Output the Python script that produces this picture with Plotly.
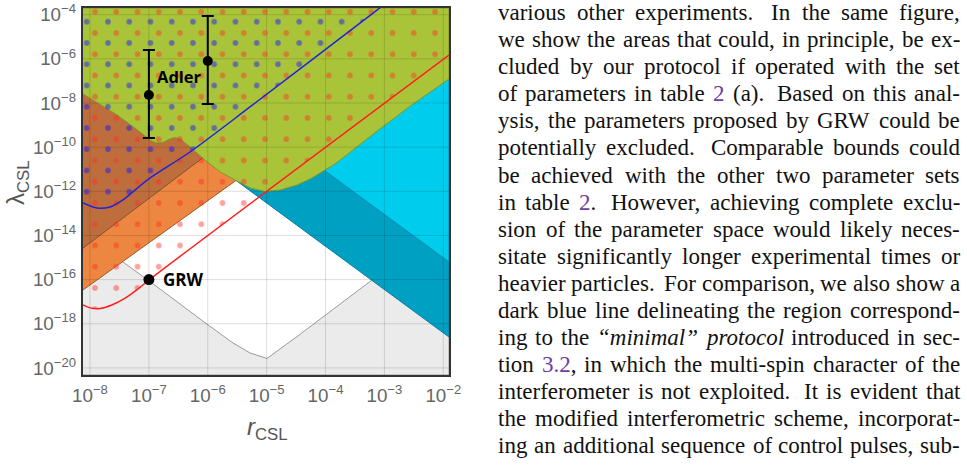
import re
import numpy as np
import plotly.graph_objects as go

W, H = 967, 465

# ---------------- data (log10 values) ----------------
X_LOG_RANGE = [-8.119, -1.903]     # r_CSL axis, log10
Y_LOG_RANGE = [-20.32, -3.697]     # lambda_CSL axis, log10
x_tick_exponents = [-8, -7, -6, -5, -4, -3, -2]
y_tick_exponents = [-20, -18, -16, -14, -12, -10, -8, -6, -4]

# lower edge of the green (excluded) region
green_edge_log_r = [-8.119, -7.83, -7.54, -7.15, -6.98, -6.88, -6.76, -6.66, -6.57, -6.47,
                    -6.30, -6.01, -5.79, -5.52, -5.28, -5.03, -4.77, -4.48, -4.26, -4.06,
                    -3.84, -3.64, -3.08, -2.515, -1.903]
green_edge_log_lam = [-7.59, -8.05, -8.54, -9.31, -9.68, -9.81, -9.79, -9.65, -9.56, -9.63,
                      -9.99, -10.67, -11.12, -11.51, -11.85, -12.01, -11.94, -11.71, -11.44, -11.12,
                      -10.76, -10.35, -9.18, -8.05, -6.91]
# brown / orange band edges
line_a_log_r = [-8.119, -5.88]
line_a_log_lam = [-14.57, -10.07]
line_b_log_r = [-8.119, -5.52]
line_b_log_lam = [-16.47, -11.51]
# grey (theoretically excluded) region edge
gray_edge_log_r = [-8.119, -7.406, -7.0, -5.996, -5.571, -5.283, -4.994, -4.485, -3.211, -1.903]
gray_edge_log_lam = [-13.89, -15.26, -16.05, -18.05, -18.87, -19.32, -19.57, -18.58, -16.02, -13.39]
# dark teal and cyan regions
teal_edge_log_r = [-5.52, -1.903]
teal_edge_log_lam = [-11.51, -18.6]
cyan_edge_log_r = [-4.2, -1.903]
cyan_edge_log_lam = [-10.70, -15.2]
# protocol bounds
red_curve_log_r = [-8.119, -8.0, -7.83, -7.63, -7.41, -7.15, -7.0, -1.903]
red_curve_log_lam = [-17.15, -17.28, -17.31, -17.15, -16.85, -16.35, -16.02, -5.83]
blue_curve_log_r = [-8.119, -7.881, -7.66, -7.44, -7.03, -6.302, -5.283, -3.126, -2.98]
blue_curve_log_lam = [-12.53, -12.76, -12.71, -12.39, -11.49, -10.22, -8.18, -3.79, -3.50]
# points
grw_r = [1e-7]
grw_lam = [1e-16]
adler_r = [1e-7, 1e-6]
adler_log_lam = [-7.64, -6.10]
adler_log_hi = [-5.60, -4.06]
adler_log_lo = [-9.58, -8.04]
ADLER_LABEL_LOG_LAM = -6.78

PARA_LINES = [
    "various other experiments.  In the same figure,",
    "we show the areas that could, in principle, be ex-",
    "cluded by our protocol if operated with the set",
    "of parameters in table §2§ (a). Based on this anal-",
    "ysis, the parameters proposed by GRW could be",
    "potentially excluded. Comparable bounds could",
    "be achieved with the other two parameter sets",
    "in table §2§. However, achieving complete exclu-",
    "sion of the parameter space would likely neces-",
    "sitate significantly longer experimental times or",
    "heavier particles. For comparison, we also show a",
    "dark blue line delineating the region correspond-",
    "ing to the *“minimal”* *protocol* introduced in sec-",
    "tion §3.2§, in which the multi-spin character of the",
    "interferometer is not exploited. It is evident that",
    "the modified interferometric scheme, incorporat-",
    "ing an additional sequence of control pulses, sub-",
]

# ---------------- styling / layout constants ----------------
PL, PR, PT, PB = 83, 449, 8, 375
X0, X1 = X_LOG_RANGE
Y0, Y1 = Y_LOG_RANGE
C_GREEN, C_BROWN, C_ORANGE = "#AAC43A", "#BE6E3C", "#EC8640"
C_GRAY, C_TEAL, C_CYAN = "#EBEBEB", "#00A0C2", "#00CDEE"


def tp(a):
    return (10.0 ** np.asarray(a, dtype=float)).tolist()


def axis_pair(left, top):
    pxdx = (PR - PL) / (X1 - X0)
    pxdy = (PB - PT) / (Y1 - Y0)
    xr = [X0 - (PL - left) / pxdx, X1]
    yr = [Y0, Y1 + (PT - top) / pxdy]
    return [left / W, PR / W], xr, [1 - PB / H, 1 - top / H], yr


fig = go.Figure()


def region(xl, yl, fill, edge, xa="x", ya="y"):
    fig.add_trace(go.Scatter(x=tp(xl), y=tp(yl), mode="lines", fill="toself",
                             fillcolor=fill, line=dict(color=edge, width=1),
                             xaxis=xa, yaxis=ya, hoverinfo="skip", showlegend=False))


# grey region
region(gray_edge_log_r + [X1, X0], gray_edge_log_lam + [Y0, Y0], C_GRAY, "#9B9B9B")
# light orange band
region([line_b_log_r[0], line_b_log_r[1], line_a_log_r[1], line_a_log_r[0]],
       [line_b_log_lam[0], line_b_log_lam[1], line_a_log_lam[1], line_a_log_lam[0]],
       C_ORANGE, "#9C5A2C")
# dark brown
region(line_a_log_r + [X0], line_a_log_lam + [Y1], C_BROWN, "#8E5530")
# dark teal
region(teal_edge_log_r + [X1], teal_edge_log_lam + [Y1], C_TEAL, "#0A7FA0")
# cyan
region(cyan_edge_log_r + [X1], cyan_edge_log_lam + [Y1], C_CYAN, "#0A8FB0")
# green
region(green_edge_log_r + [X1, X0], green_edge_log_lam + [Y1, Y1], C_GREEN, "#7E9A22")

# grid lines on top of the fills
gx, gy = [], []
for e in x_tick_exponents:
    gx += [10.0 ** e, 10.0 ** e, None]
    gy += [10.0 ** Y0, 10.0 ** Y1, None]
for e in y_tick_exponents:
    gx += [10.0 ** X0, 10.0 ** X1, None]
    gy += [10.0 ** e, 10.0 ** e, None]
fig.add_trace(go.Scatter(x=gx, y=gy, mode="lines", line=dict(color="rgba(0,0,0,0.13)", width=1),
                         hoverinfo="skip", showlegend=False))

# dotted hatching (red above red curve, blue above blue curve)
fig.add_trace(go.Scatter(x=tp(red_curve_log_r + [X1, X0]), y=tp(red_curve_log_lam + [Y1, Y1]),
                         mode="lines", fill="toself", fillcolor="rgba(0,0,0,0)",
                         line=dict(width=0, color="rgba(0,0,0,0)"),
                         fillpattern=dict(shape=".", size=21.25, solidity=0.055,
                                          fgcolor="rgb(255,45,35)", fgopacity=0.45,
                                          bgcolor="rgba(0,0,0,0)"),
                         xaxis="x2", yaxis="y2", hoverinfo="skip", showlegend=False))
fig.add_trace(go.Scatter(x=tp(blue_curve_log_r + [X0]), y=tp(blue_curve_log_lam + [blue_curve_log_lam[-1]]),
                         mode="lines", fill="toself", fillcolor="rgba(0,0,0,0)",
                         line=dict(width=0, color="rgba(0,0,0,0)"),
                         fillpattern=dict(shape=".", size=21.25, solidity=0.055,
                                          fgcolor="rgb(20,20,255)", fgopacity=0.48,
                                          bgcolor="rgba(0,0,0,0)"),
                         xaxis="x3", yaxis="y3", hoverinfo="skip", showlegend=False))

# curves and points on top
fig.add_trace(go.Scatter(x=tp(red_curve_log_r), y=tp(red_curve_log_lam), mode="lines",
                         line=dict(color="#FF1E1E", width=1.5, shape="spline", smoothing=0.8),
                         xaxis="x4", yaxis="y4", showlegend=False))
fig.add_trace(go.Scatter(x=tp(blue_curve_log_r), y=tp(blue_curve_log_lam), mode="lines",
                         line=dict(color="#2222D8", width=1.5, shape="spline", smoothing=0.8),
                         xaxis="x4", yaxis="y4", showlegend=False))
lam = np.array(tp(adler_log_lam))
fig.add_trace(go.Scatter(x=adler_r, y=lam.tolist(), mode="markers",
                         marker=dict(color="black", size=10),
                         error_y=dict(type="data", symmetric=False,
                                      array=(np.array(tp(adler_log_hi)) - lam).tolist(),
                                      arrayminus=(lam - np.array(tp(adler_log_lo))).tolist(),
                                      color="black", thickness=2, width=6),
                         xaxis="x4", yaxis="y4", showlegend=False))
fig.add_trace(go.Scatter(x=grw_r, y=grw_lam, mode="markers", marker=dict(color="black", size=11),
                         xaxis="x4", yaxis="y4", showlegend=False))

# ---------------- axes ----------------
tickfont = dict(family="Liberation Sans, Arial", size=15, color="#666666")
d1 = axis_pair(PL, PT)
d2 = axis_pair(84.4, 1.1)
d3 = axis_pair(76.1, 11.1)
hidden = dict(type="log", visible=False, showgrid=False, zeroline=False, automargin=False)
layout_axes = dict(
    xaxis=dict(type="log", domain=d1[0], range=d1[1], anchor="y", showgrid=False, zeroline=False,
               showline=False, tickmode="linear", tick0=0, dtick=1, exponentformat="power",
               showexponent="all", ticks="outside", ticklen=4, tickcolor="rgba(0,0,0,0)",
               tickfont=tickfont, automargin=False),
    yaxis=dict(type="log", domain=d1[2], range=d1[3], anchor="x", showgrid=False, zeroline=False,
               showline=False, tickmode="linear", tick0=0, dtick=2, exponentformat="power",
               showexponent="all", ticks="outside", ticklen=3, tickcolor="rgba(0,0,0,0)",
               tickfont=tickfont, automargin=False),
    xaxis2=dict(hidden, domain=d2[0], range=d2[1], anchor="y2"),
    yaxis2=dict(hidden, domain=d2[2], range=d2[3], anchor="x2"),
    xaxis3=dict(hidden, domain=d3[0], range=d3[1], anchor="y3"),
    yaxis3=dict(hidden, domain=d3[2], range=d3[3], anchor="x3"),
    xaxis4=dict(type="log", domain=d1[0], range=d1[1], anchor="y4", showgrid=False, zeroline=False,
                showticklabels=False, ticks="", showline=True, mirror=True, linecolor="#333333",
                linewidth=2, automargin=False),
    yaxis4=dict(type="log", domain=d1[2], range=d1[3], anchor="x4", showgrid=False, zeroline=False,
                showticklabels=False, ticks="", showline=True, mirror=True, linecolor="#333333",
                linewidth=2, automargin=False),
)

annotations = [
    dict(x=float(np.log10(grw_r[0])), y=float(np.log10(grw_lam[0])), xref="x4", yref="y4",
         text="<b>GRW</b>", showarrow=False, xanchor="left", yanchor="middle", xshift=12,
         font=dict(family="Open Sans", size=17, color="black")),
    dict(x=float(np.log10(adler_r[1])), y=ADLER_LABEL_LOG_LAM, xref="x4", yref="y4",
         text="<b>Adler</b>", showarrow=False, xanchor="right", yanchor="middle", xshift=-4,
         font=dict(family="Open Sans", size=16.5, color="black")),
    dict(x=17 / W, y=1 - 183 / H, xref="paper", yref="paper", text="λ<sub>CSL</sub>",
         textangle=-90, showarrow=False, xanchor="center", yanchor="middle",
         font=dict(family="Liberation Sans", size=24, color="#555555")),
    dict(x=267 / W, y=1 - 428 / H, xref="paper", yref="paper", text="<i>r</i><sub>CSL</sub>",
         showarrow=False, xanchor="center", yanchor="middle",
         font=dict(family="Liberation Sans", size=24, color="#555555")),
]

# ---------------- justified paragraph ----------------
FS = 23
TEXT_LEFT, TEXT_RIGHT = 498, 960
BASE0, STEP = 20.7, 27.02
LINK = "#6b3fa0"
TW = {' ': 250, '(': 333, ')': 333, ',': 250, '-': 333, '.': 250, ':': 278, ';': 278,
      'A': 722, 'B': 667, 'C': 667, 'D': 722, 'E': 611, 'F': 556, 'G': 722, 'H': 722, 'I': 333,
      'J': 389, 'K': 722, 'L': 611, 'M': 889, 'N': 722, 'O': 722, 'P': 556, 'Q': 722, 'R': 667,
      'S': 556, 'T': 611, 'U': 722, 'V': 722, 'W': 944, 'X': 722, 'Y': 722, 'Z': 611,
      'a': 444, 'b': 500, 'c': 444, 'd': 500, 'e': 444, 'f': 333, 'g': 500, 'h': 500, 'i': 278,
      'j': 278, 'k': 500, 'l': 278, 'm': 778, 'n': 500, 'o': 500, 'p': 500, 'q': 500, 'r': 333,
      's': 389, 't': 278, 'u': 500, 'v': 500, 'w': 722, 'x': 500, 'y': 500, 'z': 444,
      '“': 444, '”': 444}
TI = {'a': 500, 'm': 722, 'r': 389, '“': 556, '”': 556}


def wparts(w):
    out = []
    for p in re.split(r'(§[^§]*§|\*[^*]*\*)', w):
        if not p:
            continue
        if p.startswith('§'):
            out.append((p[1:-1], 'link'))
        elif p.startswith('*'):
            out.append((p[1:-1], 'ital'))
        else:
            out.append((p, 'roman'))
    return out


def width(parts):
    tot = 0
    for t, st in parts:
        for ch in t:
            tot += TI[ch] if (st == 'ital' and ch in TI) else TW.get(ch, 500)
    return tot * FS / 1000.0


def html(parts):
    s = ""
    for t, st in parts:
        if st == 'link':
            s += f"<span style='color:{LINK}'>{t}</span>"
        elif st == 'ital':
            s += f"<i>{t}</i>"
        else:
            s += t
    return s


for i, line in enumerate(PARA_LINES):
    words = line.split()
    parts = [wparts(w) for w in words]
    ws = [width(p) for p in parts]
    plain = [''.join(t for t, _ in p) for p in parts]
    wts = [1.6 if plain[k].endswith('.') else 1.0 for k in range(len(words) - 1)]
    gap = (TEXT_RIGHT - TEXT_LEFT - sum(ws)) / sum(wts)
    yc = BASE0 + STEP * i - 7.8
    x = TEXT_LEFT
    for k, p in enumerate(parts):
        annotations.append(dict(x=x / W, y=1 - yc / H, xref="paper", yref="paper", text=html(p),
                                showarrow=False, xanchor="left", yanchor="middle",
                                borderpad=0, borderwidth=0,
                                font=dict(family="Liberation Serif", size=FS, color="#111111")))
        if k < len(wts):
            x += ws[k] + gap * wts[k]

fig.update_layout(template="none", width=W, height=H,
                  margin=dict(l=0, r=0, t=0, b=0, autoexpand=False),
                  paper_bgcolor="white", plot_bgcolor="rgba(0,0,0,0)",
                  showlegend=False, annotations=annotations, **layout_axes)

fig.write_html("out.html")
